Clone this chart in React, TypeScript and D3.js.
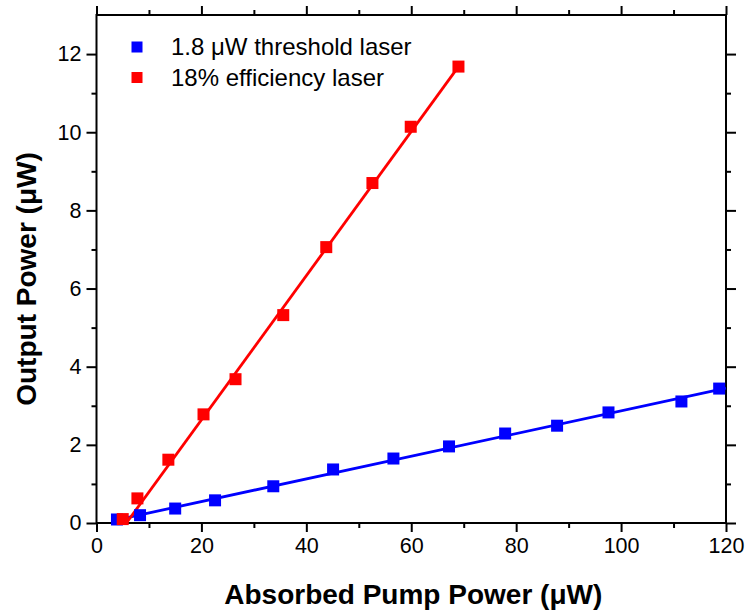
import React, { useEffect, useRef } from "react";
import * as d3 from "d3";

// threshold laser (blue)
const blueX = [3.9, 8.3, 15.0, 22.6, 33.7, 45.1, 56.6, 67.2, 77.9, 87.8, 97.6, 111.5, 118.7];
const blueY = [0.09, 0.2, 0.37, 0.58, 0.94, 1.37, 1.65, 1.96, 2.29, 2.49, 2.83, 3.11, 3.44];
const blueFitX = [3.2, 120];
const blueFitY = [0.06, 3.45];

// efficiency laser (red)
const redX = [5.0, 7.8, 13.7, 20.4, 26.5, 35.6, 43.8, 52.6, 59.9, 69.0];
const redY = [0.1, 0.63, 1.62, 2.78, 3.68, 5.32, 7.06, 8.7, 10.14, 11.68];
const redFitX = [5.7, 69.0];
const redFitY = [0.0, 11.68];

const xMajor = [0, 20, 40, 60, 80, 100, 120];
const xMinor = [10, 30, 50, 70, 90, 110];
const yMajor = [0, 2, 4, 6, 8, 10, 12];
const yMinor = [1, 3, 5, 7, 9, 11];

const legendLabels = ["1.8 \u03bcW threshold laser", "18% efficiency laser"];
const legendColors = ["#0000ff", "#ff0000"];

const W = 746, H = 612;
const margin = { top: 15, right: 20, bottom: 89, left: 96.5 };
const FONT = "'Liberation Sans', Arial, sans-serif";

export default function App() {
    const ref = useRef<SVGSVGElement>(null);

    useEffect(() => {
        const svg = d3.select(ref.current);
        svg.selectAll("*").remove();

        const width = W - margin.left - margin.right;
        const height = H - margin.top - margin.bottom;

        const x = d3.scaleLinear().domain([0, 120]).range([0, width]);
        const y = d3.scaleLinear().domain([0, 13]).range([height, 0]);

        const g = svg.append("g")
            .attr("transform", `translate(${margin.left},${margin.top})`);

        // minor + major ticks on all four sides
        const addAxis = (axis: any, tx: number, ty: number, labels: boolean) => {
            const a = g.append("g").attr("transform", `translate(${tx},${ty})`).call(axis);
            a.select(".domain").remove();
            a.selectAll("line").attr("stroke", "#000").attr("stroke-width", 2);
            a.selectAll("text")
                .attr("font-family", FONT)
                .attr("font-size", 21.5)
                .attr("fill", "#000");
            if (!labels) a.selectAll("text").remove();
            return a;
        };

        addAxis(d3.axisBottom(x).tickValues(xMajor).tickSize(9).tickPadding(6).tickFormat(d3.format("d")), 0, height, true);
        addAxis(d3.axisBottom(x).tickValues(xMinor).tickSize(5).tickFormat(() => ""), 0, height, false);
        addAxis(d3.axisTop(x).tickValues(xMajor).tickSize(9).tickFormat(() => ""), 0, 0, false);
        addAxis(d3.axisTop(x).tickValues(xMinor).tickSize(5).tickFormat(() => ""), 0, 0, false);

        addAxis(d3.axisLeft(y).tickValues(yMajor).tickSize(10).tickPadding(5).tickFormat(d3.format("d")), 0, 0, true);
        addAxis(d3.axisLeft(y).tickValues(yMinor).tickSize(5).tickFormat(() => ""), 0, 0, false);
        addAxis(d3.axisRight(y).tickValues(yMajor).tickSize(10).tickFormat(() => ""), width, 0, false);
        addAxis(d3.axisRight(y).tickValues(yMinor).tickSize(5).tickFormat(() => ""), width, 0, false);

        // frame
        g.append("rect")
            .attr("x", 0).attr("y", 0)
            .attr("width", width).attr("height", height)
            .attr("fill", "none")
            .attr("stroke", "#000")
            .attr("stroke-width", 2);

        const line = d3.line<number>()
            .x(d => x(d[0]))
            .y(d => y(d[1]));

        const series = [
            { xs: blueX, ys: blueY, fx: blueFitX, fy: blueFitY, color: legendColors[0] },
            { xs: redX, ys: redY, fx: redFitX, fy: redFitY, color: legendColors[1] },
        ];

        series.forEach(s => {
            g.append("path")
                .datum(s.fx.map((v, i) => [v, s.fy[i]]))
                .attr("fill", "none")
                .attr("stroke", s.color)
                .attr("stroke-width", 2.8)
                .attr("d", line as any);
        });

        const size = 12;
        series.forEach(s => {
            g.append("g")
                .selectAll("rect")
                .data(s.xs.map((v, i) => [v, s.ys[i]]))
                .join("rect")
                .attr("x", d => x(d[0]) - size / 2)
                .attr("y", d => y(d[1]) - size / 2)
                .attr("width", size)
                .attr("height", size)
                .attr("fill", s.color);
        });

        // legend
        const leg = svg.append("g");
        legendLabels.forEach((lab, i) => {
            const cy = 47 + i * 30.5;
            leg.append("rect")
                .attr("x", 131.5).attr("y", cy - 5.5)
                .attr("width", 11).attr("height", 11)
                .attr("fill", legendColors[i]);
            leg.append("text")
                .attr("x", 171)
                .attr("y", cy + 8)
                .attr("font-family", FONT)
                .attr("font-size", 24)
                .text(lab);
        });

        // axis titles
        svg.append("text")
            .attr("x", margin.left + width / 2 + 2)
            .attr("y", 604)
            .attr("text-anchor", "middle")
            .attr("font-family", FONT)
            .attr("font-weight", "bold")
            .attr("font-size", 28)
            .text("Absorbed Pump Power (\u03bcW)");

        svg.append("text")
            .attr("transform", `translate(36,279) rotate(-90)`)
            .attr("text-anchor", "middle")
            .attr("font-family", FONT)
            .attr("font-weight", "bold")
            .attr("font-size", 28)
            .text("Output Power (\u03bcW)");
    }, []);

    return (
        <svg ref={ref} width={W} height={H}
            style={{ position: "absolute", left: 0, top: 0, background: "#fff" }} />
    );
}
